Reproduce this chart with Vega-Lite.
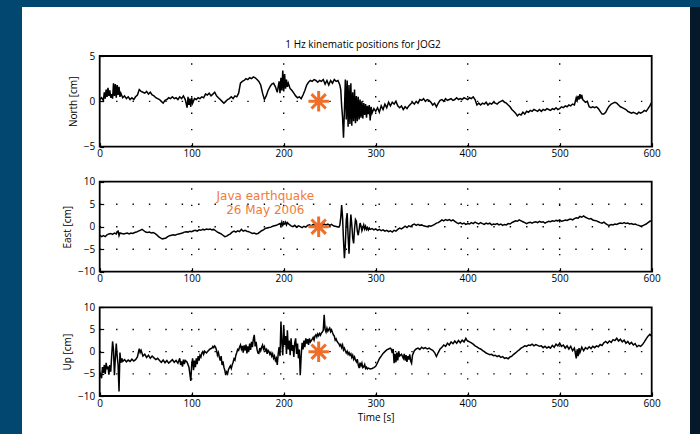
{
"$schema": "https://vega.github.io/schema/vega-lite/v6.json",
"autosize": {"type": "none"},
"width": 678,
"height": 427,
"padding": {"left": 22, "top": 7, "right": 0, "bottom": 0},
"background": "#01476f",
"title": {"text": "1 Hz kinematic positions for JOG2", "frame": "group", "anchor": "middle", "offset": -43, "dx": 2, "fontSize": 10, "fontWeight": "normal", "font": "Open Sans", "color": "black"},
"config": {
  "view": {"stroke": null, "fill": {"gradient": "linear", "x1": 0, "x2": 1, "y1": 0, "y2": 0, "stops": [{"offset": 0, "color": "white"}, {"offset": 0.9852, "color": "white"}, {"offset": 0.9853, "color": "#06192b"}, {"offset": 1, "color": "#06192b"}]}},
  "axis": {"labelFont": "Open Sans", "labelFontSize": 10, "labelColor": "black", "titleFont": "Open Sans", "titleFontSize": 10, "titleFontWeight": "normal", "titleColor": "black", "domain": false, "grid": false, "ticks": true, "tickColor": "black", "tickSize": -4, "tickWidth": 1.2, "labelPadding": 6, "titlePadding": 4, "labelFlush": false, "labelOverlap": false},
  "axisY": {"labelPadding": 9, "titlePadding": 5}
},
"datasets": {
"north": [
{"t":0,"v":0.2},{"t":2,"v":0.4},{"t":4,"v":0.1},{"t":5,"v":1.0},{"t":6,"v":0.3},{"t":7,"v":1.3},{"t":8,"v":0.5},{"t":9,"v":1.5},{"t":10,"v":0.6},{"t":11,"v":1.2},{"t":12,"v":0.4},{"t":13,"v":0.8},{"t":14,"v":0.3},{"t":15,"v":2.0},{"t":16,"v":0.6},{"t":17,"v":1.9},{"t":18,"v":0.4},{"t":19,"v":1.8},{"t":20,"v":0.7},{"t":21,"v":1.6},{"t":22,"v":0.5},{"t":23,"v":0.9},{"t":25,"v":0.4},{"t":27,"v":0.6},{"t":29,"v":0.3},{"t":31,"v":0.5},{"t":33,"v":0.2},{"t":35,"v":0.4},{"t":37,"v":0.2},{"t":39,"v":0.5},{"t":41,"v":0.7},{"t":43,"v":1.3},{"t":45,"v":1.1},{"t":47,"v":1.0},{"t":49,"v":0.9},{"t":51,"v":1.1},{"t":53,"v":0.8},{"t":55,"v":1.0},{"t":57,"v":0.7},{"t":59,"v":0.6},{"t":61,"v":0.4},{"t":63,"v":0.3},{"t":65,"v":0.2},{"t":67,"v":0.0},{"t":69,"v":-0.2},{"t":71,"v":0.1},{"t":73,"v":0.2},{"t":75,"v":0.4},{"t":77,"v":0.3},{"t":79,"v":0.5},{"t":81,"v":0.3},{"t":83,"v":0.4},{"t":85,"v":0.2},{"t":87,"v":0.5},{"t":89,"v":0.3},{"t":91,"v":0.6},{"t":93,"v":0.2},{"t":95,"v":-0.7},{"t":96,"v":0.5},{"t":97,"v":-0.4},{"t":98,"v":0.3},{"t":99,"v":-0.6},{"t":100,"v":0.4},{"t":101,"v":-0.2},{"t":103,"v":0.3},{"t":105,"v":0.2},{"t":107,"v":0.4},{"t":109,"v":0.3},{"t":111,"v":0.5},{"t":113,"v":0.4},{"t":115,"v":0.8},{"t":117,"v":0.7},{"t":119,"v":0.9},{"t":121,"v":0.6},{"t":123,"v":0.8},{"t":125,"v":1.0},{"t":127,"v":0.6},{"t":129,"v":0.4},{"t":131,"v":0.2},{"t":133,"v":0.0},{"t":135,"v":-0.2},{"t":137,"v":0.0},{"t":139,"v":0.2},{"t":141,"v":0.3},{"t":143,"v":0.5},{"t":145,"v":0.3},{"t":147,"v":0.6},{"t":149,"v":0.5},{"t":151,"v":0.9},{"t":153,"v":2.0},{"t":155,"v":2.2},{"t":157,"v":2.3},{"t":159,"v":2.5},{"t":161,"v":2.4},{"t":163,"v":2.6},{"t":165,"v":2.5},{"t":167,"v":2.7},{"t":169,"v":2.6},{"t":171,"v":2.4},{"t":173,"v":2.2},{"t":175,"v":1.8},{"t":177,"v":0.9},{"t":179,"v":0.2},{"t":181,"v":0.6},{"t":183,"v":1.2},{"t":185,"v":1.6},{"t":187,"v":1.9},{"t":189,"v":2.0},{"t":191,"v":1.6},{"t":193,"v":1.0},{"t":195,"v":2.2},{"t":196,"v":0.9},{"t":197,"v":2.6},{"t":198,"v":1.2},{"t":199,"v":3.4},{"t":200,"v":1.1},{"t":201,"v":3.0},{"t":202,"v":1.4},{"t":203,"v":2.4},{"t":204,"v":1.6},{"t":205,"v":2.0},{"t":207,"v":1.4},{"t":209,"v":1.2},{"t":211,"v":0.9},{"t":213,"v":0.6},{"t":215,"v":0.4},{"t":217,"v":0.5},{"t":219,"v":0.3},{"t":221,"v":0.7},{"t":223,"v":1.2},{"t":225,"v":1.8},{"t":227,"v":2.1},{"t":229,"v":2.3},{"t":231,"v":2.2},{"t":233,"v":2.4},{"t":235,"v":2.3},{"t":237,"v":2.1},{"t":239,"v":2.3},{"t":241,"v":2.2},{"t":243,"v":2.4},{"t":245,"v":1.9},{"t":247,"v":2.3},{"t":249,"v":1.8},{"t":251,"v":2.3},{"t":253,"v":2.0},{"t":255,"v":2.4},{"t":257,"v":2.2},{"t":259,"v":2.3},{"t":261,"v":1.8},{"t":262,"v":1.3},{"t":263,"v":-0.5},{"t":264,"v":-1.8},{"t":265,"v":-4.0},{"t":266,"v":-1.0},{"t":267,"v":2.4},{"t":268,"v":-2.0},{"t":269,"v":2.3},{"t":270,"v":-2.8},{"t":271,"v":1.8},{"t":272,"v":-2.5},{"t":273,"v":2.0},{"t":274,"v":-2.7},{"t":275,"v":1.0},{"t":276,"v":-2.2},{"t":277,"v":1.3},{"t":278,"v":-2.4},{"t":279,"v":0.6},{"t":280,"v":-2.2},{"t":281,"v":0.5},{"t":282,"v":-2.0},{"t":283,"v":0.2},{"t":284,"v":-1.8},{"t":285,"v":0.0},{"t":286,"v":-1.9},{"t":287,"v":-0.2},{"t":288,"v":-1.5},{"t":289,"v":-0.3},{"t":290,"v":-1.8},{"t":291,"v":-0.5},{"t":292,"v":-1.4},{"t":293,"v":-0.4},{"t":294,"v":-2.1},{"t":295,"v":-0.6},{"t":296,"v":-1.3},{"t":298,"v":-0.8},{"t":300,"v":-1.1},{"t":302,"v":-0.7},{"t":304,"v":-1.2},{"t":306,"v":-0.5},{"t":308,"v":-0.9},{"t":310,"v":-0.3},{"t":312,"v":-0.7},{"t":314,"v":-0.1},{"t":316,"v":-0.5},{"t":318,"v":-0.1},{"t":320,"v":-0.3},{"t":322,"v":0.0},{"t":324,"v":-0.5},{"t":326,"v":-0.7},{"t":328,"v":-0.5},{"t":330,"v":-0.9},{"t":332,"v":-0.6},{"t":334,"v":-0.8},{"t":336,"v":-0.5},{"t":338,"v":-0.3},{"t":340,"v":-0.1},{"t":342,"v":-0.3},{"t":344,"v":0.0},{"t":346,"v":-0.2},{"t":348,"v":0.2},{"t":350,"v":0.1},{"t":352,"v":0.3},{"t":354,"v":0.0},{"t":356,"v":0.2},{"t":358,"v":0.1},{"t":360,"v":-0.1},{"t":362,"v":-0.4},{"t":364,"v":-0.2},{"t":366,"v":-0.6},{"t":368,"v":-0.2},{"t":370,"v":0.1},{"t":372,"v":0.2},{"t":374,"v":0.0},{"t":376,"v":0.3},{"t":378,"v":0.1},{"t":380,"v":0.2},{"t":382,"v":0.3},{"t":384,"v":0.1},{"t":386,"v":0.2},{"t":388,"v":0.4},{"t":390,"v":0.2},{"t":392,"v":0.3},{"t":394,"v":0.2},{"t":396,"v":0.4},{"t":398,"v":0.3},{"t":400,"v":0.2},{"t":402,"v":0.4},{"t":404,"v":0.3},{"t":406,"v":0.5},{"t":408,"v":0.2},{"t":410,"v":-0.4},{"t":412,"v":-0.2},{"t":414,"v":-0.4},{"t":416,"v":-0.2},{"t":418,"v":-0.3},{"t":420,"v":-0.1},{"t":422,"v":-0.4},{"t":424,"v":-0.2},{"t":426,"v":-0.3},{"t":428,"v":-0.1},{"t":430,"v":-0.2},{"t":432,"v":-0.3},{"t":434,"v":-0.1},{"t":436,"v":0.0},{"t":438,"v":0.1},{"t":440,"v":-0.1},{"t":442,"v":-0.2},{"t":444,"v":-0.4},{"t":446,"v":-0.6},{"t":448,"v":-0.9},{"t":450,"v":-1.1},{"t":452,"v":-1.3},{"t":454,"v":-1.6},{"t":456,"v":-1.4},{"t":458,"v":-1.5},{"t":460,"v":-1.2},{"t":462,"v":-1.4},{"t":464,"v":-1.1},{"t":466,"v":-1.2},{"t":468,"v":-1.0},{"t":470,"v":-1.1},{"t":472,"v":-0.9},{"t":474,"v":-1.0},{"t":476,"v":-1.1},{"t":478,"v":-0.9},{"t":480,"v":-1.1},{"t":482,"v":-0.9},{"t":484,"v":-1.0},{"t":486,"v":-0.8},{"t":488,"v":-0.9},{"t":490,"v":-1.0},{"t":492,"v":-0.8},{"t":494,"v":-0.9},{"t":496,"v":-0.7},{"t":498,"v":-0.9},{"t":500,"v":-0.8},{"t":502,"v":-0.6},{"t":504,"v":-0.7},{"t":506,"v":-0.5},{"t":508,"v":-0.6},{"t":510,"v":-0.4},{"t":512,"v":-0.5},{"t":514,"v":-0.3},{"t":516,"v":-0.4},{"t":518,"v":0.4},{"t":519,"v":0.1},{"t":520,"v":0.6},{"t":521,"v":0.2},{"t":522,"v":0.8},{"t":523,"v":0.3},{"t":524,"v":0.7},{"t":525,"v":0.2},{"t":526,"v":0.1},{"t":528,"v":-0.1},{"t":530,"v":0.0},{"t":532,"v":-0.6},{"t":534,"v":-0.7},{"t":536,"v":-0.6},{"t":538,"v":-0.7},{"t":540,"v":-0.6},{"t":542,"v":-0.8},{"t":544,"v":-1.1},{"t":546,"v":-1.4},{"t":548,"v":-1.4},{"t":550,"v":-1.2},{"t":552,"v":-0.8},{"t":554,"v":-0.5},{"t":556,"v":-0.3},{"t":558,"v":-0.2},{"t":560,"v":-0.1},{"t":562,"v":-0.2},{"t":564,"v":-0.4},{"t":566,"v":-0.6},{"t":568,"v":-0.7},{"t":570,"v":-0.8},{"t":572,"v":-0.9},{"t":574,"v":-1.1},{"t":576,"v":-1.2},{"t":578,"v":-1.3},{"t":580,"v":-1.2},{"t":582,"v":-1.3},{"t":584,"v":-1.4},{"t":586,"v":-1.2},{"t":588,"v":-1.3},{"t":590,"v":-1.2},{"t":592,"v":-1.0},{"t":594,"v":-1.1},{"t":596,"v":-0.8},{"t":598,"v":-0.5},{"t":600,"v":-0.1}
],
"east": [
{"t":0,"v":-1.9},{"t":2,"v":-2.2},{"t":4,"v":-2.0},{"t":6,"v":-2.2},{"t":8,"v":-1.8},{"t":10,"v":-1.6},{"t":12,"v":-1.5},{"t":14,"v":-1.7},{"t":16,"v":-1.4},{"t":18,"v":-1.6},{"t":19,"v":-1.1},{"t":20,"v":-1.0},{"t":21,"v":-2.0},{"t":22,"v":-1.4},{"t":24,"v":-1.5},{"t":26,"v":-1.6},{"t":28,"v":-1.5},{"t":30,"v":-1.4},{"t":32,"v":-1.6},{"t":34,"v":-1.4},{"t":36,"v":-1.5},{"t":38,"v":-1.3},{"t":40,"v":-1.2},{"t":42,"v":-1.0},{"t":44,"v":-0.8},{"t":46,"v":-0.6},{"t":48,"v":-0.9},{"t":50,"v":-1.2},{"t":52,"v":-1.3},{"t":54,"v":-1.2},{"t":56,"v":-1.4},{"t":58,"v":-1.3},{"t":60,"v":-1.5},{"t":62,"v":-1.8},{"t":64,"v":-2.2},{"t":66,"v":-2.5},{"t":68,"v":-2.7},{"t":70,"v":-2.6},{"t":72,"v":-2.5},{"t":74,"v":-2.2},{"t":76,"v":-2.0},{"t":78,"v":-1.9},{"t":80,"v":-1.8},{"t":82,"v":-1.9},{"t":84,"v":-1.7},{"t":86,"v":-1.6},{"t":88,"v":-1.5},{"t":90,"v":-1.4},{"t":92,"v":-1.2},{"t":94,"v":-1.1},{"t":96,"v":-1.2},{"t":98,"v":-1.0},{"t":100,"v":-1.1},{"t":102,"v":-0.9},{"t":104,"v":-0.8},{"t":106,"v":-1.0},{"t":108,"v":-0.7},{"t":110,"v":-0.8},{"t":112,"v":-0.6},{"t":114,"v":-0.7},{"t":116,"v":-0.5},{"t":118,"v":-0.6},{"t":120,"v":-0.5},{"t":122,"v":-0.7},{"t":124,"v":-0.6},{"t":126,"v":-0.9},{"t":128,"v":-1.2},{"t":130,"v":-1.4},{"t":132,"v":-1.6},{"t":134,"v":-1.9},{"t":136,"v":-2.2},{"t":138,"v":-2.1},{"t":140,"v":-1.8},{"t":142,"v":-1.6},{"t":144,"v":-1.2},{"t":146,"v":-1.0},{"t":148,"v":-1.2},{"t":150,"v":-0.9},{"t":152,"v":-1.1},{"t":154,"v":-0.6},{"t":156,"v":-1.0},{"t":158,"v":-0.8},{"t":160,"v":-1.0},{"t":162,"v":-1.1},{"t":164,"v":-1.3},{"t":166,"v":-1.5},{"t":168,"v":-1.4},{"t":170,"v":-1.6},{"t":172,"v":-1.5},{"t":174,"v":-1.2},{"t":176,"v":-0.9},{"t":178,"v":-0.7},{"t":180,"v":-0.4},{"t":182,"v":-0.3},{"t":184,"v":-0.2},{"t":186,"v":-0.1},{"t":188,"v":0.1},{"t":190,"v":0.2},{"t":192,"v":0.3},{"t":194,"v":0.5},{"t":196,"v":0.7},{"t":197,"v":0.2},{"t":198,"v":1.0},{"t":199,"v":0.3},{"t":200,"v":0.8},{"t":201,"v":0.6},{"t":202,"v":1.0},{"t":203,"v":0.4},{"t":204,"v":0.9},{"t":206,"v":0.5},{"t":208,"v":0.2},{"t":210,"v":0.0},{"t":212,"v":0.3},{"t":214,"v":-0.1},{"t":216,"v":0.2},{"t":218,"v":0.0},{"t":220,"v":-0.2},{"t":222,"v":0.1},{"t":224,"v":-0.1},{"t":226,"v":0.3},{"t":228,"v":0.4},{"t":230,"v":0.2},{"t":232,"v":0.5},{"t":234,"v":0.3},{"t":236,"v":0.6},{"t":238,"v":0.4},{"t":240,"v":0.5},{"t":242,"v":0.3},{"t":244,"v":0.6},{"t":246,"v":0.4},{"t":248,"v":0.6},{"t":250,"v":0.3},{"t":252,"v":0.5},{"t":254,"v":0.2},{"t":256,"v":0.1},{"t":258,"v":0.0},{"t":260,"v":-0.1},{"t":261,"v":0.3},{"t":262,"v":2.0},{"t":263,"v":4.8},{"t":264,"v":2.0},{"t":265,"v":-3.0},{"t":266,"v":-7.0},{"t":267,"v":-4.0},{"t":268,"v":1.5},{"t":269,"v":3.0},{"t":270,"v":-2.0},{"t":271,"v":-6.0},{"t":272,"v":-1.0},{"t":273,"v":2.7},{"t":274,"v":0.5},{"t":275,"v":-2.5},{"t":276,"v":-3.7},{"t":277,"v":-0.5},{"t":278,"v":1.6},{"t":279,"v":1.2},{"t":280,"v":-1.0},{"t":281,"v":-1.9},{"t":282,"v":-0.6},{"t":283,"v":0.8},{"t":284,"v":0.2},{"t":285,"v":-0.9},{"t":286,"v":-0.3},{"t":287,"v":0.4},{"t":288,"v":-0.5},{"t":289,"v":0.1},{"t":290,"v":-0.6},{"t":291,"v":-0.2},{"t":292,"v":-0.7},{"t":293,"v":-0.3},{"t":294,"v":-0.6},{"t":296,"v":-0.4},{"t":298,"v":-0.7},{"t":300,"v":-0.5},{"t":302,"v":-0.8},{"t":304,"v":-0.6},{"t":306,"v":-0.9},{"t":308,"v":-0.7},{"t":310,"v":-1.0},{"t":312,"v":-0.8},{"t":314,"v":-1.1},{"t":316,"v":-0.9},{"t":318,"v":-1.2},{"t":320,"v":-0.8},{"t":322,"v":-1.0},{"t":324,"v":-0.6},{"t":326,"v":-0.3},{"t":328,"v":-0.5},{"t":330,"v":-0.2},{"t":332,"v":0.1},{"t":334,"v":-0.2},{"t":336,"v":0.2},{"t":338,"v":0.0},{"t":340,"v":0.4},{"t":342,"v":0.6},{"t":344,"v":0.3},{"t":346,"v":0.5},{"t":348,"v":0.3},{"t":350,"v":0.4},{"t":352,"v":0.2},{"t":354,"v":0.1},{"t":356,"v":0.0},{"t":358,"v":0.2},{"t":360,"v":0.1},{"t":362,"v":0.3},{"t":364,"v":0.5},{"t":366,"v":0.8},{"t":368,"v":0.9},{"t":370,"v":1.2},{"t":372,"v":1.5},{"t":374,"v":1.3},{"t":376,"v":1.6},{"t":378,"v":1.4},{"t":380,"v":1.6},{"t":382,"v":1.3},{"t":384,"v":1.5},{"t":386,"v":1.2},{"t":388,"v":0.9},{"t":390,"v":0.7},{"t":392,"v":0.9},{"t":394,"v":0.6},{"t":396,"v":0.8},{"t":398,"v":0.5},{"t":400,"v":0.7},{"t":402,"v":0.6},{"t":404,"v":0.9},{"t":406,"v":0.7},{"t":408,"v":1.0},{"t":410,"v":0.8},{"t":412,"v":0.6},{"t":414,"v":0.9},{"t":416,"v":0.7},{"t":418,"v":0.5},{"t":420,"v":0.8},{"t":422,"v":0.6},{"t":424,"v":0.8},{"t":426,"v":0.4},{"t":428,"v":0.6},{"t":430,"v":0.5},{"t":432,"v":0.7},{"t":434,"v":0.4},{"t":436,"v":0.6},{"t":438,"v":0.3},{"t":440,"v":0.5},{"t":442,"v":0.4},{"t":444,"v":0.7},{"t":446,"v":0.6},{"t":448,"v":0.9},{"t":450,"v":1.1},{"t":452,"v":1.3},{"t":454,"v":1.2},{"t":456,"v":1.5},{"t":458,"v":1.3},{"t":460,"v":1.1},{"t":462,"v":0.9},{"t":464,"v":0.7},{"t":466,"v":0.9},{"t":468,"v":1.0},{"t":470,"v":0.8},{"t":472,"v":1.0},{"t":474,"v":1.1},{"t":476,"v":0.9},{"t":478,"v":1.2},{"t":480,"v":1.0},{"t":482,"v":1.1},{"t":484,"v":0.8},{"t":486,"v":1.0},{"t":488,"v":1.2},{"t":490,"v":1.1},{"t":492,"v":1.3},{"t":494,"v":1.2},{"t":496,"v":1.4},{"t":498,"v":1.3},{"t":500,"v":1.5},{"t":502,"v":1.2},{"t":504,"v":1.3},{"t":506,"v":1.5},{"t":508,"v":1.4},{"t":510,"v":1.6},{"t":512,"v":1.7},{"t":514,"v":1.5},{"t":516,"v":1.8},{"t":518,"v":2.0},{"t":520,"v":1.9},{"t":522,"v":2.3},{"t":524,"v":2.1},{"t":526,"v":2.4},{"t":528,"v":2.1},{"t":530,"v":1.9},{"t":532,"v":1.7},{"t":534,"v":1.8},{"t":536,"v":1.5},{"t":538,"v":1.4},{"t":540,"v":1.3},{"t":542,"v":1.1},{"t":544,"v":0.9},{"t":546,"v":0.8},{"t":548,"v":1.0},{"t":550,"v":0.7},{"t":552,"v":0.4},{"t":554,"v":0.3},{"t":556,"v":0.5},{"t":558,"v":0.4},{"t":560,"v":0.6},{"t":562,"v":0.5},{"t":564,"v":0.7},{"t":566,"v":0.8},{"t":568,"v":0.7},{"t":570,"v":0.9},{"t":572,"v":0.7},{"t":574,"v":0.8},{"t":576,"v":0.6},{"t":578,"v":0.7},{"t":580,"v":0.5},{"t":582,"v":0.6},{"t":584,"v":0.4},{"t":586,"v":0.3},{"t":588,"v":0.1},{"t":590,"v":0.2},{"t":592,"v":0.4},{"t":594,"v":0.6},{"t":596,"v":0.9},{"t":598,"v":1.2},{"t":600,"v":1.3}
],
"up": [
{"t":0,"v":-4.5},{"t":1,"v":-5.5},{"t":2,"v":-6.0},{"t":3,"v":-3.5},{"t":4,"v":-4.8},{"t":5,"v":-3.0},{"t":6,"v":-5.0},{"t":7,"v":-2.5},{"t":8,"v":-4.0},{"t":9,"v":-3.3},{"t":10,"v":-5.2},{"t":11,"v":-3.0},{"t":12,"v":-4.5},{"t":13,"v":-1.0},{"t":14,"v":2.3},{"t":15,"v":0.5},{"t":16,"v":-5.3},{"t":17,"v":-1.5},{"t":18,"v":1.8},{"t":19,"v":-1.0},{"t":20,"v":-3.0},{"t":21,"v":-9.0},{"t":22,"v":-0.2},{"t":23,"v":-2.5},{"t":24,"v":-1.5},{"t":25,"v":-2.2},{"t":27,"v":-1.8},{"t":29,"v":-2.3},{"t":31,"v":-1.9},{"t":33,"v":-2.2},{"t":35,"v":-1.7},{"t":37,"v":-2.1},{"t":39,"v":-1.8},{"t":41,"v":-1.2},{"t":43,"v":0.7},{"t":44,"v":-0.2},{"t":45,"v":0.3},{"t":47,"v":-1.0},{"t":49,"v":-0.6},{"t":51,"v":-1.3},{"t":53,"v":-0.8},{"t":55,"v":-1.5},{"t":57,"v":-1.0},{"t":59,"v":-1.4},{"t":61,"v":-1.8},{"t":63,"v":-1.5},{"t":65,"v":-2.0},{"t":67,"v":-2.4},{"t":69,"v":-1.9},{"t":71,"v":-2.5},{"t":73,"v":-2.0},{"t":75,"v":-2.6},{"t":77,"v":-2.2},{"t":79,"v":-1.8},{"t":81,"v":-2.4},{"t":83,"v":-2.0},{"t":85,"v":-2.6},{"t":87,"v":-1.5},{"t":88,"v":-3.0},{"t":89,"v":-2.2},{"t":90,"v":-3.4},{"t":91,"v":-1.8},{"t":92,"v":-2.8},{"t":93,"v":-2.0},{"t":95,"v":-2.4},{"t":97,"v":-3.5},{"t":98,"v":-5.0},{"t":99,"v":-6.6},{"t":100,"v":-3.0},{"t":101,"v":-1.5},{"t":102,"v":-4.2},{"t":103,"v":-2.0},{"t":104,"v":-3.5},{"t":105,"v":-1.5},{"t":106,"v":-2.8},{"t":107,"v":-1.0},{"t":108,"v":-2.0},{"t":109,"v":-0.8},{"t":110,"v":-1.2},{"t":111,"v":-0.3},{"t":112,"v":0.0},{"t":113,"v":-0.6},{"t":114,"v":0.1},{"t":116,"v":-0.3},{"t":118,"v":0.2},{"t":120,"v":0.6},{"t":122,"v":0.8},{"t":123,"v":1.2},{"t":124,"v":0.9},{"t":125,"v":1.3},{"t":126,"v":1.0},{"t":127,"v":0.3},{"t":128,"v":-0.8},{"t":129,"v":-0.2},{"t":130,"v":-1.2},{"t":131,"v":-2.0},{"t":132,"v":-1.0},{"t":133,"v":-3.0},{"t":134,"v":-2.2},{"t":135,"v":-3.5},{"t":136,"v":-4.2},{"t":137,"v":-5.3},{"t":138,"v":-4.6},{"t":139,"v":-5.0},{"t":140,"v":-4.0},{"t":141,"v":-3.6},{"t":142,"v":-3.2},{"t":143,"v":-3.8},{"t":144,"v":-3.0},{"t":145,"v":-2.4},{"t":146,"v":-1.6},{"t":147,"v":-1.9},{"t":148,"v":-0.8},{"t":149,"v":-0.2},{"t":150,"v":0.5},{"t":151,"v":0.3},{"t":152,"v":1.0},{"t":153,"v":1.5},{"t":154,"v":0.6},{"t":155,"v":1.3},{"t":156,"v":-0.2},{"t":157,"v":1.4},{"t":158,"v":0.3},{"t":159,"v":1.6},{"t":160,"v":-0.4},{"t":161,"v":1.2},{"t":162,"v":0.0},{"t":163,"v":1.8},{"t":164,"v":0.4},{"t":165,"v":2.2},{"t":166,"v":1.0},{"t":167,"v":2.8},{"t":168,"v":3.8},{"t":169,"v":1.2},{"t":170,"v":2.2},{"t":171,"v":0.5},{"t":172,"v":-0.3},{"t":173,"v":-0.4},{"t":174,"v":0.8},{"t":175,"v":0.2},{"t":176,"v":1.0},{"t":177,"v":1.5},{"t":178,"v":0.6},{"t":179,"v":1.1},{"t":180,"v":0.2},{"t":181,"v":0.5},{"t":182,"v":-0.5},{"t":183,"v":0.3},{"t":184,"v":0.0},{"t":185,"v":-0.6},{"t":186,"v":-0.2},{"t":187,"v":-1.0},{"t":188,"v":-0.5},{"t":189,"v":-1.5},{"t":190,"v":-1.0},{"t":191,"v":-2.0},{"t":192,"v":-1.5},{"t":193,"v":-3.0},{"t":194,"v":-0.5},{"t":195,"v":1.0},{"t":196,"v":-1.0},{"t":197,"v":6.8},{"t":198,"v":2.0},{"t":199,"v":-0.8},{"t":200,"v":6.0},{"t":201,"v":1.5},{"t":202,"v":3.5},{"t":203,"v":-0.5},{"t":204,"v":4.8},{"t":205,"v":0.5},{"t":206,"v":2.5},{"t":207,"v":-0.8},{"t":208,"v":3.0},{"t":209,"v":0.2},{"t":210,"v":1.5},{"t":211,"v":-1.2},{"t":212,"v":2.0},{"t":213,"v":3.0},{"t":214,"v":-0.5},{"t":215,"v":1.8},{"t":216,"v":-1.5},{"t":217,"v":0.5},{"t":218,"v":-5.3},{"t":219,"v":-1.0},{"t":220,"v":2.0},{"t":221,"v":0.5},{"t":222,"v":2.5},{"t":223,"v":1.0},{"t":224,"v":3.0},{"t":225,"v":1.8},{"t":226,"v":2.8},{"t":227,"v":1.5},{"t":228,"v":3.0},{"t":229,"v":2.2},{"t":230,"v":2.5},{"t":231,"v":2.8},{"t":232,"v":3.2},{"t":233,"v":2.6},{"t":234,"v":3.5},{"t":235,"v":3.8},{"t":236,"v":3.3},{"t":237,"v":4.0},{"t":238,"v":3.6},{"t":239,"v":4.1},{"t":240,"v":3.7},{"t":241,"v":4.2},{"t":242,"v":4.4},{"t":243,"v":4.8},{"t":244,"v":8.3},{"t":245,"v":5.0},{"t":246,"v":4.4},{"t":247,"v":5.3},{"t":248,"v":4.6},{"t":249,"v":5.0},{"t":250,"v":5.3},{"t":251,"v":4.5},{"t":252,"v":4.9},{"t":253,"v":4.3},{"t":254,"v":3.8},{"t":255,"v":3.5},{"t":256,"v":2.6},{"t":257,"v":2.9},{"t":258,"v":2.3},{"t":259,"v":2.0},{"t":260,"v":1.8},{"t":261,"v":1.3},{"t":262,"v":1.6},{"t":263,"v":0.9},{"t":264,"v":1.5},{"t":265,"v":0.4},{"t":266,"v":0.8},{"t":267,"v":0.2},{"t":268,"v":-0.3},{"t":269,"v":0.1},{"t":270,"v":-0.6},{"t":271,"v":-0.2},{"t":272,"v":-0.8},{"t":273,"v":-0.5},{"t":274,"v":-1.3},{"t":275,"v":-0.8},{"t":276,"v":-1.7},{"t":277,"v":-1.2},{"t":278,"v":-1.9},{"t":279,"v":-2.3},{"t":280,"v":-1.7},{"t":281,"v":-3.0},{"t":282,"v":-3.7},{"t":283,"v":-2.5},{"t":284,"v":-3.2},{"t":285,"v":-2.6},{"t":286,"v":-3.6},{"t":287,"v":-3.4},{"t":288,"v":-2.9},{"t":289,"v":-3.8},{"t":290,"v":-3.5},{"t":291,"v":-3.9},{"t":292,"v":-3.7},{"t":294,"v":-3.9},{"t":296,"v":-3.8},{"t":298,"v":-3.6},{"t":300,"v":-3.3},{"t":302,"v":-2.5},{"t":304,"v":-1.6},{"t":306,"v":-1.0},{"t":308,"v":-0.4},{"t":310,"v":0.0},{"t":312,"v":0.4},{"t":314,"v":0.6},{"t":316,"v":0.8},{"t":317,"v":0.5},{"t":318,"v":-0.3},{"t":319,"v":0.6},{"t":320,"v":-2.6},{"t":321,"v":-0.5},{"t":322,"v":-2.4},{"t":323,"v":-0.2},{"t":324,"v":-2.0},{"t":325,"v":0.1},{"t":326,"v":-1.0},{"t":328,"v":-0.6},{"t":330,"v":-1.5},{"t":331,"v":-0.5},{"t":332,"v":-2.0},{"t":333,"v":-0.8},{"t":334,"v":-2.3},{"t":335,"v":-1.0},{"t":336,"v":-1.8},{"t":337,"v":-0.6},{"t":338,"v":-2.1},{"t":339,"v":-2.6},{"t":340,"v":-0.8},{"t":342,"v":0.2},{"t":344,"v":0.6},{"t":346,"v":0.8},{"t":348,"v":0.5},{"t":350,"v":1.0},{"t":352,"v":0.7},{"t":354,"v":0.9},{"t":356,"v":0.6},{"t":358,"v":0.8},{"t":360,"v":0.5},{"t":362,"v":0.3},{"t":364,"v":-0.2},{"t":366,"v":-1.1},{"t":368,"v":-0.2},{"t":370,"v":0.6},{"t":372,"v":1.0},{"t":374,"v":1.5},{"t":376,"v":1.2},{"t":378,"v":1.9},{"t":380,"v":1.5},{"t":382,"v":2.2},{"t":384,"v":1.8},{"t":386,"v":2.4},{"t":388,"v":1.9},{"t":390,"v":2.5},{"t":392,"v":2.0},{"t":394,"v":2.6},{"t":396,"v":2.2},{"t":398,"v":3.0},{"t":399,"v":2.6},{"t":400,"v":2.4},{"t":402,"v":2.2},{"t":404,"v":2.0},{"t":406,"v":1.7},{"t":408,"v":1.3},{"t":410,"v":1.1},{"t":412,"v":0.8},{"t":414,"v":0.6},{"t":416,"v":0.3},{"t":418,"v":0.0},{"t":420,"v":-0.3},{"t":422,"v":-0.5},{"t":424,"v":-0.7},{"t":426,"v":-0.6},{"t":428,"v":-0.9},{"t":430,"v":-0.8},{"t":432,"v":-1.1},{"t":434,"v":-0.9},{"t":436,"v":-1.3},{"t":438,"v":-1.1},{"t":440,"v":-1.5},{"t":442,"v":-1.4},{"t":444,"v":-1.6},{"t":446,"v":-1.2},{"t":448,"v":-1.0},{"t":450,"v":-0.6},{"t":452,"v":-0.3},{"t":454,"v":0.1},{"t":456,"v":0.4},{"t":458,"v":0.8},{"t":460,"v":1.0},{"t":462,"v":1.3},{"t":464,"v":1.2},{"t":466,"v":1.5},{"t":468,"v":1.4},{"t":470,"v":1.7},{"t":472,"v":1.3},{"t":474,"v":1.6},{"t":476,"v":1.4},{"t":478,"v":1.2},{"t":480,"v":1.3},{"t":482,"v":0.9},{"t":484,"v":1.2},{"t":486,"v":0.8},{"t":488,"v":1.1},{"t":490,"v":0.8},{"t":492,"v":1.4},{"t":494,"v":1.0},{"t":496,"v":1.7},{"t":498,"v":1.3},{"t":500,"v":1.9},{"t":502,"v":1.2},{"t":504,"v":1.5},{"t":506,"v":0.8},{"t":508,"v":1.3},{"t":510,"v":0.6},{"t":512,"v":1.2},{"t":514,"v":0.2},{"t":516,"v":0.8},{"t":518,"v":-1.5},{"t":519,"v":0.5},{"t":520,"v":-1.0},{"t":521,"v":0.8},{"t":522,"v":-0.2},{"t":524,"v":1.0},{"t":526,"v":0.2},{"t":528,"v":0.9},{"t":530,"v":0.6},{"t":532,"v":1.1},{"t":534,"v":0.7},{"t":536,"v":1.2},{"t":538,"v":0.9},{"t":540,"v":1.3},{"t":542,"v":1.1},{"t":544,"v":1.6},{"t":546,"v":1.4},{"t":548,"v":2.0},{"t":550,"v":2.3},{"t":552,"v":1.9},{"t":554,"v":2.4},{"t":556,"v":2.1},{"t":558,"v":2.7},{"t":560,"v":2.5},{"t":562,"v":3.0},{"t":564,"v":2.4},{"t":566,"v":2.8},{"t":568,"v":2.2},{"t":570,"v":2.6},{"t":572,"v":1.9},{"t":574,"v":2.3},{"t":576,"v":1.7},{"t":578,"v":2.1},{"t":580,"v":1.5},{"t":582,"v":1.8},{"t":584,"v":1.1},{"t":586,"v":1.4},{"t":588,"v":1.2},{"t":590,"v":1.6},{"t":592,"v":2.2},{"t":594,"v":2.9},{"t":596,"v":3.5},{"t":598,"v":3.9},{"t":600,"v":3.5}
]
},
"layer": [
 {
  "layer": [
   {"data": {"values": [{"g": 100}, {"g": 200}, {"g": 300}, {"g": 400}, {"g": 500}]}, "mark": {"type": "rule", "color": "black", "strokeWidth": 1.4, "strokeDash": [1.4, 15]}, "encoding": {"x": {"field": "g", "type": "quantitative"}, "y": {"datum": -5}, "y2": {"datum": 5}}},
   {"data": {"values": [{"h": 0}]}, "mark": {"type": "rule", "color": "black", "strokeWidth": 1.4, "strokeDash": [1.4, 15]}, "encoding": {"y": {"field": "h", "type": "quantitative"}, "x": {"datum": 0}, "x2": {"datum": 600}}},
   {"data": {"name": "north"}, "mark": {"type": "line", "color": "black", "strokeWidth": 1.5},
    "encoding": {
     "x": {"field": "t", "type": "quantitative", "scale": {"domain": [0, 600], "range": [77.7, 629.7], "nice": false, "zero": false}, "axis": {"orient": "bottom", "offset": -287.3, "values": [0, 100, 200, 300, 400, 500, 600], "title": null}},
     "y": {"field": "v", "type": "quantitative", "scale": {"domain": [-5, 5], "range": [139.7, 49], "nice": false, "zero": false}, "axis": {"orient": "left", "offset": -77.7, "values": [-5, 0, 5], "title": "North [cm]"}}
    }},
   {"data": {"values": [{}]}, "mark": {"type": "rect", "fillOpacity": 0, "stroke": "black", "strokeWidth": 1.8}, "encoding": {"x": {"datum": 0}, "x2": {"datum": 600}, "y": {"datum": -5}, "y2": {"datum": 5}}},
   {"data": {"values": [{"t": 238, "v": 0}]}, "mark": {"type": "point", "shape": "M-1,0L1,0M0,-1L0,1M-0.7,-0.7L0.7,0.7M-0.7,0.7L0.7,-0.7", "size": 420, "filled": false, "stroke": "#ef6f2a", "strokeWidth": 3, "opacity": 1}, "encoding": {"x": {"field": "t", "type": "quantitative"}, "y": {"field": "v", "type": "quantitative"}}}
  ]
 },
 {
  "layer": [
   {"data": {"values": [{"g": 100}, {"g": 200}, {"g": 300}, {"g": 400}, {"g": 500}]}, "mark": {"type": "rule", "color": "black", "strokeWidth": 1.4, "strokeDash": [1.4, 15]}, "encoding": {"x": {"field": "g", "type": "quantitative"}, "y": {"datum": -10}, "y2": {"datum": 10}}},
   {"data": {"values": [{"h": -5}, {"h": 0}, {"h": 5}]}, "mark": {"type": "rule", "color": "black", "strokeWidth": 1.4, "strokeDash": [1.4, 15]}, "encoding": {"y": {"field": "h", "type": "quantitative"}, "x": {"datum": 0}, "x2": {"datum": 600}}},
   {"data": {"name": "east"}, "mark": {"type": "line", "color": "black", "strokeWidth": 1.5},
    "encoding": {
     "x": {"field": "t", "type": "quantitative", "scale": {"domain": [0, 600], "range": [77.7, 629.7], "nice": false, "zero": false}, "axis": {"orient": "bottom", "offset": -162.3, "values": [0, 100, 200, 300, 400, 500, 600], "title": null}},
     "y": {"field": "v", "type": "quantitative", "scale": {"domain": [-10, 10], "range": [264.7, 174.7], "nice": false, "zero": false}, "axis": {"orient": "left", "offset": -77.7, "values": [-10, -5, 0, 5, 10], "title": "East [cm]"}}
    }},
   {"data": {"values": [{}]}, "mark": {"type": "rect", "fillOpacity": 0, "stroke": "black", "strokeWidth": 1.8}, "encoding": {"x": {"datum": 0}, "x2": {"datum": 600}, "y": {"datum": -10}, "y2": {"datum": 10}}},
   {"data": {"values": [{"t": 238, "v": 0}]}, "mark": {"type": "point", "shape": "M-1,0L1,0M0,-1L0,1M-0.7,-0.7L0.7,0.7M-0.7,0.7L0.7,-0.7", "size": 420, "filled": false, "stroke": "#ef6f2a", "strokeWidth": 3, "opacity": 1}, "encoding": {"x": {"field": "t", "type": "quantitative"}, "y": {"field": "v", "type": "quantitative"}}},
   {"data": {"values": [{"t": 180, "v": 6.9, "label": "Java earthquake"}, {"t": 180, "v": 3.7, "label": "26 May 2006"}]}, "mark": {"type": "text", "font": "DejaVu Sans", "fontSize": 12, "color": "#f07a3a", "align": "center", "baseline": "middle"}, "encoding": {"x": {"field": "t", "type": "quantitative"}, "y": {"field": "v", "type": "quantitative"}, "text": {"field": "label"}}}
  ]
 },
 {
  "layer": [
   {"data": {"values": [{"g": 100}, {"g": 200}, {"g": 300}, {"g": 400}, {"g": 500}]}, "mark": {"type": "rule", "color": "black", "strokeWidth": 1.4, "strokeDash": [1.4, 15]}, "encoding": {"x": {"field": "g", "type": "quantitative"}, "y": {"datum": -10}, "y2": {"datum": 10}}},
   {"data": {"values": [{"h": -5}, {"h": 0}, {"h": 5}]}, "mark": {"type": "rule", "color": "black", "strokeWidth": 1.4, "strokeDash": [1.4, 15]}, "encoding": {"y": {"field": "h", "type": "quantitative"}, "x": {"datum": 0}, "x2": {"datum": 600}}},
   {"data": {"name": "up"}, "mark": {"type": "line", "color": "black", "strokeWidth": 1.5},
    "encoding": {
     "x": {"field": "t", "type": "quantitative", "scale": {"domain": [0, 600], "range": [77.7, 629.7], "nice": false, "zero": false}, "axis": {"orient": "bottom", "offset": -38, "values": [0, 100, 200, 300, 400, 500, 600], "title": "Time [s]"}},
     "y": {"field": "v", "type": "quantitative", "scale": {"domain": [-10, 10], "range": [389, 300.3], "nice": false, "zero": false}, "axis": {"orient": "left", "offset": -77.7, "values": [-10, -5, 0, 5, 10], "title": "Up [cm]"}}
    }},
   {"data": {"values": [{}]}, "mark": {"type": "rect", "fillOpacity": 0, "stroke": "black", "strokeWidth": 1.8}, "encoding": {"x": {"datum": 0}, "x2": {"datum": 600}, "y": {"datum": -10}, "y2": {"datum": 10}}},
   {"data": {"values": [{"t": 238, "v": 0}]}, "mark": {"type": "point", "shape": "M-1,0L1,0M0,-1L0,1M-0.7,-0.7L0.7,0.7M-0.7,0.7L0.7,-0.7", "size": 420, "filled": false, "stroke": "#ef6f2a", "strokeWidth": 3, "opacity": 1}, "encoding": {"x": {"field": "t", "type": "quantitative"}, "y": {"field": "v", "type": "quantitative"}}}
  ]
 }
],
"resolve": {"scale": {"x": "independent", "y": "independent"}, "axis": {"x": "independent", "y": "independent"}}
}
